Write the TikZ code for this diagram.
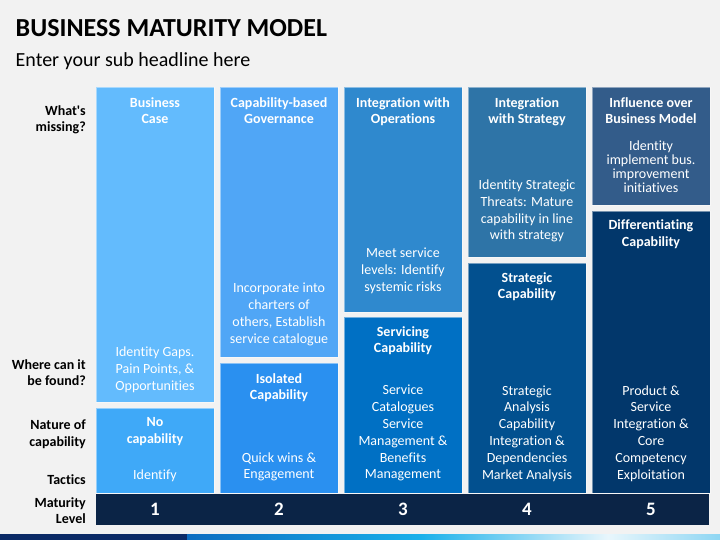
\documentclass[tikz,border=0pt]{standalone}
\usepackage{fontspec}
\setmainfont{Carlito}[Ligatures={TeX,NoCommon}]
\usetikzlibrary{positioning}
\definecolor{bg}{HTML}{F2F2F2}
\definecolor{lvla}{HTML}{63BBFD}
\definecolor{lvlb}{HTML}{3FA9F8}
\definecolor{lvlc}{HTML}{50A6F6}
\definecolor{lvld}{HTML}{2A90F0}
\definecolor{lvle}{HTML}{2F89CE}
\definecolor{lvlf}{HTML}{0070C4}
\definecolor{lvlg}{HTML}{2E74A7}
\definecolor{lvlh}{HTML}{02508F}
\definecolor{lvli}{HTML}{335C8A}
\definecolor{lvlj}{HTML}{02376B}
\definecolor{barnavy}{HTML}{0B2446}
\definecolor{stripnavy}{HTML}{0B2A66}
\definecolor{stripblue}{HTML}{0C6CC0}
\definecolor{stripcyan}{HTML}{19B0EA}
\definecolor{striplight}{HTML}{E8F6FC}
\definecolor{stripsky}{HTML}{8ED6F3}
\tikzset{
  box/.style={anchor=north west,draw=white,draw opacity=.45,line width=.8pt,inner sep=0pt,outer sep=0pt,minimum width=118pt},
  head/.style={text=white,align=center,inner sep=0pt,font=\fontsize{14}{16.8}\selectfont\bfseries},
  body/.style={text=white,align=center,inner sep=0pt,font=\fontsize{14}{16.8}\selectfont},
  lab/.style={anchor=north east,align=right,inner sep=0pt,font=\fontsize{14}{16.8}\selectfont\bfseries},
  num/.style={text=white,inner sep=0pt,font=\fontsize{19}{22}\selectfont\bfseries}
}
\begin{document}
\begin{tikzpicture}[x=1pt,y=-1pt]
\useasboundingbox (0,0) rectangle (720,540);
\fill[bg] (0,0) rectangle (720,540);
% title
\node[anchor=north west,inner sep=0pt,font=\fontsize{26}{31}\selectfont\bfseries] (title)at(15.5,19.5){BUSINESS MATURITY MODEL};
\node[anchor=north west,inner sep=0pt,font=\fontsize{20}{24}\selectfont] (sub)at(15.5,52){Enter your sub headline here};
% row labels
\node[lab] (q1)at(86,105){What\textquotesingle s\\missing?};
\node[lab] (q2)at(86,359){Where can it\\be found?};
\node[lab] (q3)at(86,419.5){Nature of\\capability};
\node[lab] (q4)at(86,474){Tactics};
\node[lab] (q5)at(86,497){Maturity\\Level};
% level boxes
\node[box,fill=lvla,minimum height=315pt] (b1top)at(96,87){};
\node[box,fill=lvlb,minimum height=85pt] (b1bot)at(96,408){};
\node[box,fill=lvlc,minimum height=270pt] (b2top)at(220,87){};
\node[box,fill=lvld,minimum height=130pt] (b2bot)at(220,363){};
\node[box,fill=lvle,minimum height=225pt] (b3top)at(344,87){};
\node[box,fill=lvlf,minimum height=176pt] (b3bot)at(344,317){};
\node[box,fill=lvlg,minimum height=170pt] (b4top)at(468,87){};
\node[box,fill=lvlh,minimum height=230pt] (b4bot)at(468,263){};
\node[box,fill=lvli,minimum height=118pt] (b5top)at(592,87){};
\node[box,fill=lvlj,minimum height=282pt] (b5bot)at(592,211){};
\node[anchor=north west,fill=barnavy,inner sep=0pt,minimum width=613pt,minimum height=31pt] (bar)at(96,494){};
% level 1
\node[head,below=10pt of b1top.north] (h1top){Business\\Case};
\node[body,above=9.5pt of b1top.south] (t1top){Identity Gaps.\\Pain Points, \&\\Opportunities};
\node[head,below=9.5pt of b1bot.north] (h1bot){No\\capability};
\node[body,above=11.5pt of b1bot.south] (t1bot){Identify};
% level 2
\node[head,below=10pt of b2top.north] (h2top){Capability-based\\Governance};
\node[body,above=11.3pt of b2top.south] (t2top){Incorporate into\\charters of\\others, Establish\\service catalogue};
\node[head,below=10pt of b2bot.north] (h2bot){Isolated\\Capability};
\node[body,above=11.5pt of b2bot.south] (t2bot){Quick wins \&\\Engagement};
% level 3
\node[head,below=10pt of b3top.north] (h3top){Integration with\\Operations};
\node[body,above=18pt of b3top.south] (t3top){Meet service\\levels: Identify\\systemic risks};
\node[head,below=9pt of b3bot.north] (h3bot){Servicing\\Capability};
\node[body,above=11.5pt of b3bot.south] (t3bot){Service\\Catalogues\\Service\\Management \&\\Benefits\\Management};
% level 4
\node[head,below=10pt of b4top.north] (h4top){Integration\\with Strategy};
\node[body,above=14.5pt of b4top.south] (t4top){Identity Strategic\\Threats: Mature\\capability in line\\with strategy};
\node[head,below=9pt of b4bot.north] (h4bot){Strategic\\Capability};
\node[body,above=11.5pt of b4bot.south] (t4bot){Strategic\\Analysis\\Capability\\Integration \&\\Dependencies\\Market Analysis};
% level 5
\node[head,below=10pt of b5top.north] (h5top){Influence over\\Business Model};
\node[body,above=12.3pt of b5top.south,font=\fontsize{14}{14}\selectfont] (t5top){Identity\\implement bus.\\improvement\\initiatives};
\node[head,below=8.5pt of b5bot.north] (h5bot){Differentiating\\Capability};
\node[body,above=11.5pt of b5bot.south] (t5bot){Product \&\\Service\\Integration \&\\Core\\Competency\\Exploitation};
% maturity numbers
\node[num] (n1)at(b1bot.south |- bar.center){1};
\node[num] (n2)at(b2bot.south |- bar.center){2};
\node[num] (n3)at(b3bot.south |- bar.center){3};
\node[num] (n4)at(b4bot.south |- bar.center){4};
\node[num] (n5)at(b5bot.south |- bar.center){5};
% bottom strip
\fill[stripnavy] (0,534) rectangle (187,540);
\shade[left color=stripblue,right color=stripcyan] (187,534) rectangle (420,540);
\shade[left color=stripcyan,right color=striplight] (420,534) rectangle (608,540);
\shade[left color=striplight,right color=stripsky] (608,534) rectangle (720,540);
\end{tikzpicture}
\end{document}
